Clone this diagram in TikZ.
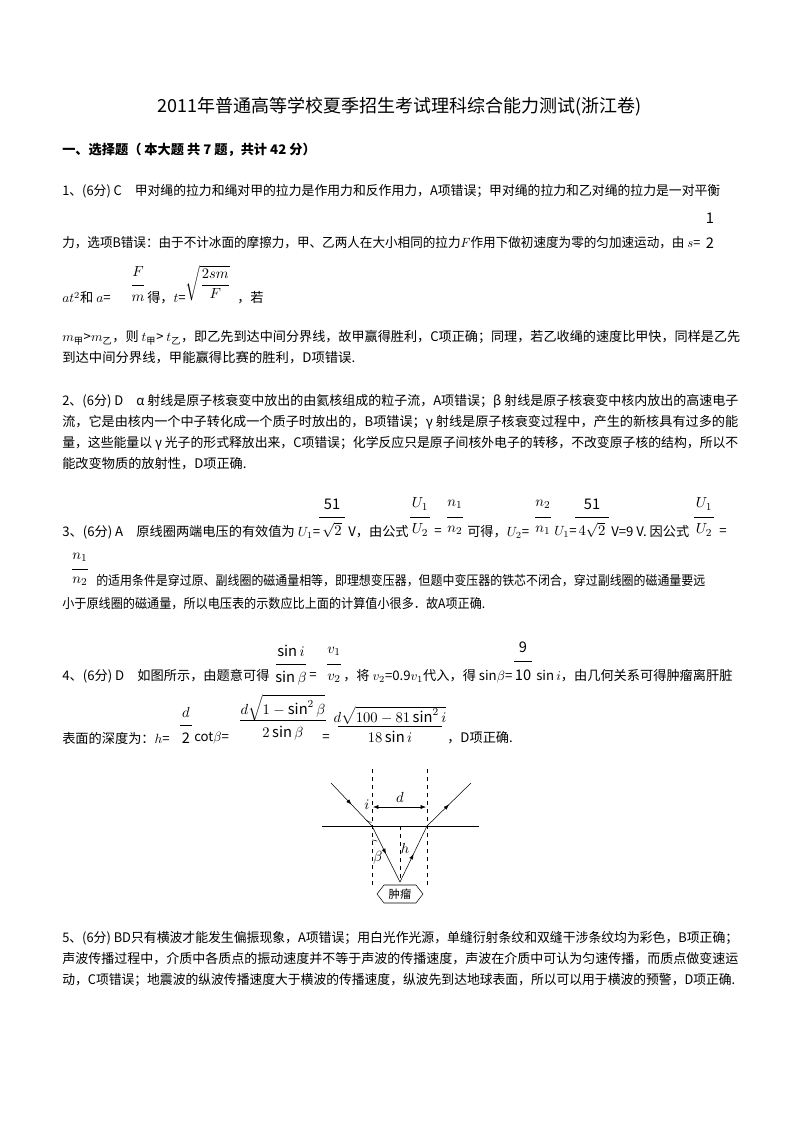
\documentclass[tikz,border=0pt]{standalone}
\usepackage{amsmath}
\usepackage{graphicx}
\usepackage{fontspec}
\setmainfont{Noto Sans CJK SC}
\usetikzlibrary{arrows.meta,decorations.markings,calc}
\newcommand{\T}[3]{\node[txt] at (#1,#2) {#3};}
\newcommand{\TW}[4]{\node[txt] at (#1,#2) {\resizebox{#3pt}{\height}{#4}};}
\newcommand{\fr}[6]{\node[mth] at (#1,#2) {#4}; \node[mth] at (#1,#3) {#5}; \draw[thin] ($(#1,{(#2+#3)/2})+(-#6,0)$) -- ($(#1,{(#2+#3)/2})+(#6,0)$);}
\begin{document}
\begin{tikzpicture}[x=0.75pt,y=-0.75pt,
  txt/.style={anchor=west,inner sep=0,font=\fontsize{9.9}{12}\selectfont},
  mth/.style={inner sep=0,font=\fontsize{11}{12}\selectfont},
  ray/.style={thin,postaction={decorate},decoration={markings,mark=at position 0.5 with {\arrow{Latex[length=4pt]}}}}]
\useasboundingbox[fill=white] (0,0) rectangle (800,1132);
\node[inner sep=0,font=\fontsize{13.5}{15}\selectfont] (title) at (400,107) {2011年普通高等学校夏季招生考试理科综合能力测试(浙江卷)};
\node[txt,font=\fontsize{9.9}{12}\selectfont\bfseries] (h1) at (62,150) {一、选择题（ 本大题 共 7 题，共计 42 分）};
\TW{62}{191}{493.5}{1、(6分) C\quad 甲对绳的拉力和绳对甲的拉力是作用力和反作用力，A项错误；甲对绳的拉力和乙对绳的拉力是一对平衡}
\node[mth] at (710,218) {1}; \node[mth] at (710,243) {2};
\TW{62}{243}{478.5}{力，选项B错误：由于不计冰面的摩擦力，甲、乙两人在大小相同的拉力$F$作用下做初速度为零的匀加速运动，由 $s$=}
\T{62}{298}{$at^2$和 $a$=}
\fr{138}{272}{298}{$F$}{$m$}{6}
\T{147}{298}{得，$t$=}
\node[mth] at (208,283) {$\sqrt{\dfrac{2sm}{F}}$};
\T{237}{298}{，若}
\TW{62}{338}{508.5}{$m_{\text{甲}}$>$m_{\text{乙}}$，则 $t_{\text{甲}}$> $t_{\text{乙}}$，即乙先到达中间分界线，故甲赢得胜利，C项正确；同理，若乙收绳的速度比甲快，同样是乙先}
\TW{62}{358}{219.75}{到达中间分界线，甲能赢得比赛的胜利，D项错误.}
\TW{62}{401}{507}{2、(6分) D\quad α 射线是原子核衰变中放出的由氦核组成的粒子流，A项错误；β 射线是原子核衰变中核内放出的高速电子}
\TW{62}{422}{507}{流，它是由核内一个中子转化成一个质子时放出的，B项错误；γ 射线是原子核衰变过程中，产生的新核具有过多的能}
\TW{62}{443}{507}{量，这些能量以 γ 光子的形式释放出来，C项错误；化学反应只是原子间核外电子的转移，不改变原子核的结构，所以不}
\T{62}{464}{能改变物质的放射性，D项正确.}
% line 3
\T{62}{532}{3、(6分) A\quad 原线圈两端电压的有效值为 $U_1$=}
\fr{332}{504}{530}{51}{$\sqrt{2}$}{13}
\T{348}{532}{V，由公式}
\fr{420}{504}{530}{$U_1$}{$U_2$}{10}
\T{434}{532}{=}
\fr{455}{504}{530}{$n_1$}{$n_2$}{8}
\T{467}{532}{可得，$U_2$=}
\fr{543}{504}{530}{$n_2$}{$n_1$}{8}
\T{554}{532}{$U_1$=}
\fr{592}{504}{530}{51}{$4\sqrt{2}$}{17}
\T{611}{532}{V=9 V. 因公式}
\fr{704}{504}{530}{$U_1$}{$U_2$}{10}
\T{719}{532}{=}
\fr{80}{557}{581}{$n_1$}{$n_2$}{8}
\TW{96}{581}{456.75}{的适用条件是穿过原、副线圈的磁通量相等，即理想变压器，但题中变压器的铁芯不闭合，穿过副线圈的磁通量要远}
\TW{62}{604}{317.25}{小于原线圈的磁通量，所以电压表的示数应比上面的计算值小很多．故A项正确.}
% line 4
\T{62}{676}{4、(6分) D\quad 如图所示，由题意可得}
\fr{291}{651}{678}{$\sin i$}{$\sin\beta$}{15}
\T{309}{676}{=}
\fr{334}{651}{678}{$v_1$}{$v_2$}{7}
\T{343}{676}{，将 $v_2$=0.9$v_1$代入，得 sin$\beta$=}
\fr{523}{647}{675}{9}{10}{9}
\T{536}{676}{sin$\,i$，由几何关系可得肿瘤离肝脏}
\T{62}{738}{表面的深度为：$h$=}
\fr{186}{712}{738}{$d$}{2}{6}
\T{194}{738}{cot$\beta$=}
\fr{283}{708}{733}{$d\sqrt{1-\sin^2\beta}$}{$2\sin\beta$}{43}
\T{322}{738}{=}
\fr{390}{715}{737}{$d\sqrt{100-81\sin^2 i}$}{$18\sin i$}{52}
\T{447}{738}{，D项正确.}
% figure
\coordinate (L0) at (331,783); \coordinate (A) at (372,826); \coordinate (T) at (400,882);
\coordinate (B) at (427,826); \coordinate (R0) at (471,783);
\draw[thin] (322,826) -- (479,826);
\draw[thin,dashed] (372,769) -- (372,887);
\draw[thin,dashed] (427,769) -- (427,887);
\draw[thin,dashed] (400,826) -- (400,880);
\draw[ray] (L0) -- (A);
\draw[ray] (A) -- (T);
\draw[ray] (T) -- (B);
\draw[ray] (B) -- (R0);
\draw[{Latex[length=4pt]}-{Latex[length=4pt]},thin] (373,807) -- (426,807);
\node[mth] at (400,797) {$d$};
\node[mth] at (367,805) {$i$};
\draw[thin] (366,820) arc[start angle=135,end angle=90,radius=8];
\draw[thin] (372,840) arc[start angle=-90,end angle=-64,radius=12];
\node[mth] at (378,858) {$\beta$};
\node[mth] at (405,848) {$h$};
\draw[thin] (377,894) -- (384,885) -- (416,885) -- (423,894) -- (416,903) -- (384,903) -- cycle;
\node[inner sep=0,font=\fontsize{8.5}{9}\selectfont] (tm) at (400,894) {肿瘤};
% line 5
\TW{62}{938}{507}{5、(6分) BD只有横波才能发生偏振现象，A项错误；用白光作光源，单缝衍射条纹和双缝干涉条纹均为彩色，B项正确；}
\TW{62}{959}{507}{声波传播过程中，介质中各质点的振动速度并不等于声波的传播速度，声波在介质中可认为匀速传播，而质点做变速运}
\TW{62}{980}{504.75}{动，C项错误；地震波的纵波传播速度大于横波的传播速度，纵波先到达地球表面，所以可以用于横波的预警，D项正确.}
\end{tikzpicture}
\end{document}
